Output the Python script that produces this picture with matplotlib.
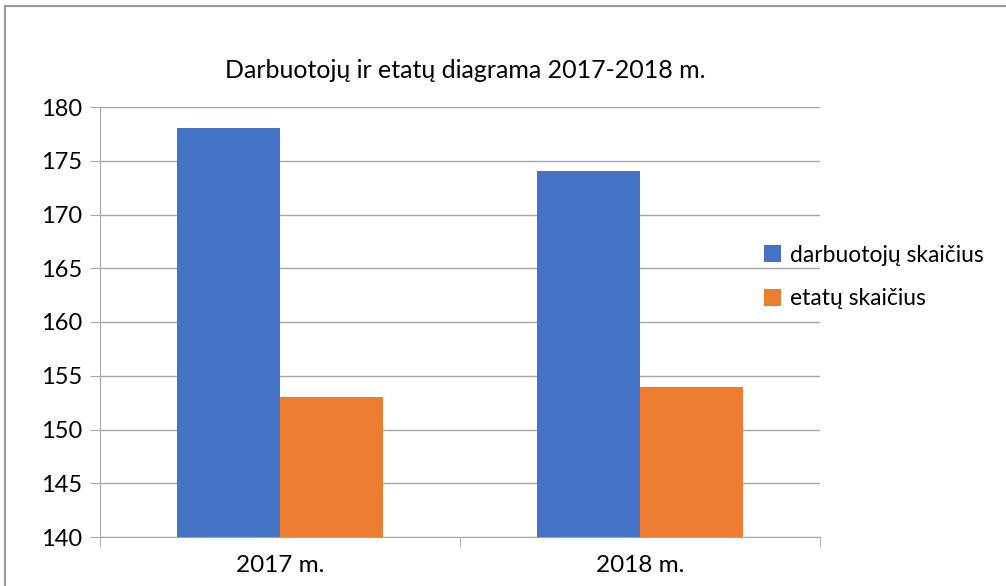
import matplotlib.pyplot as plt
import numpy as np
from matplotlib.lines import Line2D

categories = ['2017 m.', '2018 m.']
darbuotoju = [178, 174]
etatu = [153, 154]
series_names = ['darbuotojų skaičius', 'etatų skaičius']
yticks = [140, 145, 150, 155, 160, 165, 170, 175, 180]

plt.rcParams['font.family'] = ['Lato', 'DejaVu Sans']

W, H = 1006, 586
fig = plt.figure(figsize=(W / 100, H / 100), dpi=100)
ax = fig.add_axes([100 / W, 1 - 537 / H, 720 / W, 430 / H])

x = np.arange(len(categories))
w = 0.286
ax.bar(x - w / 2, np.array(darbuotoju) - 140, w, bottom=140, color='#4472C4', label=series_names[0], zorder=3)
ax.bar(x + w / 2, np.array(etatu) - 140, w, bottom=140, color='#ED7D31', label=series_names[1], zorder=3)

ax.set_xlim(-0.5, 1.5)
ax.set_ylim(140, 180)
ax.set_yticks(yticks)
ax.set_xticks(x)
ax.set_xticklabels(categories)
ax.set_xticks([-0.5, 0.5, 1.5], minor=True)
ax.tick_params(axis='x', which='major', length=0, pad=13, labelsize=17.5)
ax.tick_params(axis='x', which='minor', length=7, color='#a6a6a6', direction='out')
ax.tick_params(axis='y', length=7, color='#a6a6a6', labelsize=17, pad=6)
ax.grid(axis='y', color='#a6a6a6', linewidth=1, zorder=0)

for s in ['top', 'right']:
    ax.spines[s].set_visible(False)
for s in ['left', 'bottom']:
    ax.spines[s].set_color('#a6a6a6')

fig.text(465 / W, 1 - 70 / H, 'Darbuotojų ir etatų diagrama 2017-2018 m.', ha='center', va='center', fontsize=18)

ax.legend(loc='center left', bbox_to_anchor=(743 / W, 1 - 277 / H), bbox_transform=fig.transFigure,
          frameon=False, fontsize=16.5, handlelength=0.75, handleheight=0.75, handletextpad=0.4, labelspacing=1.0)

fig.add_artist(Line2D([5 / W, 5 / W], [0, 1 - 6 / H], color='#9a9a9a', linewidth=1.5, transform=fig.transFigure))
fig.add_artist(Line2D([5 / W, 1], [1 - 6 / H, 1 - 6 / H], color='#9a9a9a', linewidth=1.5, transform=fig.transFigure))

fig.savefig('out.png', dpi=100)
